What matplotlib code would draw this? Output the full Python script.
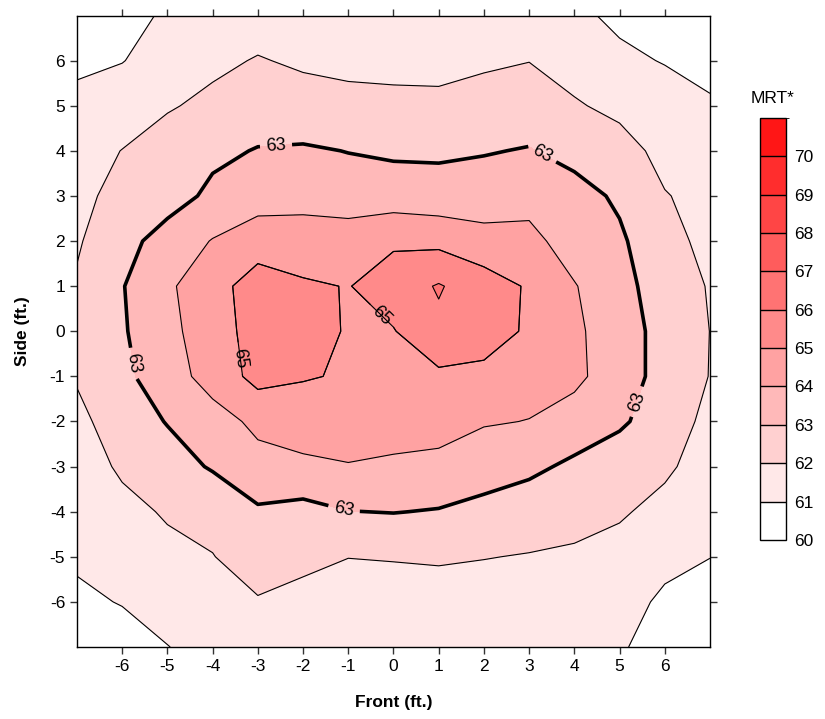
import numpy as np
import matplotlib
matplotlib.use("Agg")
import matplotlib.pyplot as plt
from matplotlib.colors import ListedColormap, BoundaryNorm

plt.rcParams['font.family'] = ['Liberation Sans', 'DejaVu Sans']
plt.rcParams['axes.unicode_minus'] = False

# measuring grid (ft.)
front = np.arange(-7, 8)
side = np.arange(-7, 8)

# MRT readings, one row per side position, from side=7 down to side=-7
mrt_rows = [
    [60.6, 60.85, 61.06, 61.3, 61.5, 61.5, 61.5, 61.5, 61.45, 61.5, 61.5, 61.2, 60.8, 60.5, 60.3],
    [60.7, 60.97, 61.4, 61.77, 62.07, 61.84, 61.7, 61.65, 61.6, 61.85, 61.98, 61.6, 61.2, 60.95, 60.55],
    [61.4, 61.5, 61.9, 62.25, 62.5, 62.45, 62.35, 62.3, 62.3, 62.4, 62.55, 62.1, 61.75, 61.45, 61.17],
    [61.6, 62.02, 62.5, 62.8, 63.05, 63.1, 62.98, 62.85, 62.85, 62.95, 63.05, 62.7, 62.4, 61.7, 61.45],
    [61.75, 62.3, 62.6, 63.2, 63.6, 63.75, 63.4, 63.5, 63.4, 63.4, 63.7, 63.35, 62.85, 62.05, 61.7],
    [61.9, 62.67, 63.4, 64.05, 64.5, 64.35, 64.6, 64.85, 64.75, 64.4, 64.25, 63.6, 63.15, 62.3, 61.75],
    [62.1, 62.95, 63.85, 64.6, 65.5, 65.15, 64.96, 65.5, 66.08, 65.45, 64.9, 64.05, 63.4, 62.4, 61.95],
    [62.2, 62.9, 63.7, 64.6, 65.35, 65.5, 64.9, 64.95, 65.8, 65.5, 64.85, 64.2, 63.4, 62.7, 61.99],
    [62.08, 62.75, 63.6, 64.35, 65.33, 65.08, 64.9, 64.75, 64.8, 64.72, 64.45, 64.25, 63.4, 62.7, 61.97],
    [61.77, 62.45, 63.05, 63.65, 64.19, 64.4, 64.4, 64.45, 64.35, 64.1, 63.97, 63.54, 63.15, 62.5, 61.75],
    [61.5, 62.15, 62.55, 63.1, 63.72, 63.84, 63.96, 63.83, 63.76, 63.27, 63.2, 62.82, 62.45, 62.15, 61.6],
    [61.35, 61.72, 62.1, 62.2, 62.86, 62.67, 62.98, 63.03, 62.94, 62.83, 62.5, 62.35, 62.1, 61.74, 61.35],
    [61.15, 61.4, 61.75, 61.98, 62.3, 62.2, 62.01, 62.05, 62.1, 62.03, 61.95, 61.85, 61.7, 61.35, 61.01],
    [60.8, 61.05, 61.35, 61.6, 61.95, 61.75, 61.7, 61.6, 61.6, 61.55, 61.5, 61.5, 61.5, 60.77, 60.7],
    [60.5, 60.55, 60.98, 61.3, 61.4, 61.4, 61.4, 61.4, 61.4, 61.35, 61.3, 61.25, 61.1, 60.6, 60.4],
]

levels = list(range(60, 72))
line_levels = [61, 62, 63, 64, 65, 66]
tick_vals = list(range(-6, 7))

Z = np.array(mrt_rows)[::-1]
X, Y = np.meshgrid(front, side)

# white -> red steps
shades = []
for k in range(len(levels) - 1):
    g = int(round(255 - 23.3 * k))
    shades.append('#ff%02x%02x' % (g, g))
cmap = ListedColormap(shades)
norm = BoundaryNorm(levels, cmap.N)

fig = plt.figure(figsize=(8.25, 7.19), dpi=100)
ax = fig.add_axes([0.0933, 0.1001, 0.7673, 0.8783])

cf = ax.contourf(X, Y, Z, levels=levels, cmap=cmap, norm=norm)
thin = [l for l in line_levels if l != 63]
ax.contour(X, Y, Z, levels=thin, colors='black', linewidths=0.8)
c63 = ax.contour(X, Y, Z, levels=[63], colors='black', linewidths=2.6)
c65 = ax.contour(X, Y, Z, levels=[65], colors='black', linewidths=0.8)

ax.clabel(c63, fmt='%d', fontsize=13, inline=True, inline_spacing=6,
          manual=[(-2.6, 4.15), (3.3, 3.95), (-5.66, -0.7), (5.5, -1.6), (-1.1, -3.97)])
ax.clabel(c65, fmt='%d', fontsize=13, inline=True, inline_spacing=6,
          manual=[(-3.4, -0.6), (-0.25, 0.35)])

ax.set_xlim(-7, 7)
ax.set_ylim(-7, 7)
ax.set_xticks(tick_vals)
ax.set_yticks(tick_vals)
ax.tick_params(direction='out', length=5, width=1, top=True, right=True,
               labelsize=12.5, color='#333333')
for s in ax.spines.values():
    s.set_linewidth(1.0)
ax.set_xlabel('Front (ft.)', fontsize=12.5, fontweight='bold', labelpad=15)
ax.set_ylabel('Side (ft.)', fontsize=12.5, fontweight='bold', labelpad=14)

cax = fig.add_axes([0.9212, 0.249, 0.0315, 0.587])
cb = fig.colorbar(cf, cax=cax, ticks=list(range(60, 71)), drawedges=True)
cb.outline.set_linewidth(1.0)
cb.dividers.set_linewidth(1.0)
cb.ax.tick_params(length=0, labelsize=12.5, pad=6)
fig.text(0.937, 0.853, 'MRT*', ha='center', va='bottom', fontsize=12.5)

fig.savefig('out.png', dpi=100)
